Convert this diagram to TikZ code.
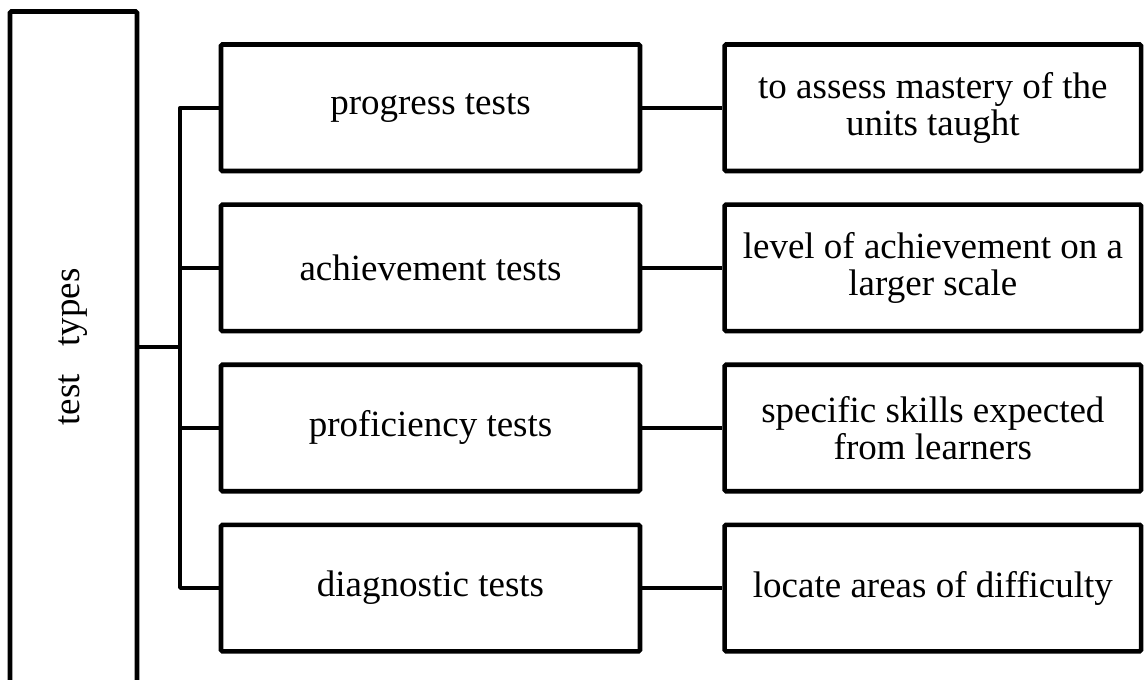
\documentclass[tikz,border=0pt]{standalone}
\usepackage{fontspec}
\setmainfont{Liberation Serif}
\usepackage{xcolor}
\usepackage{tikz}
\usetikzlibrary{positioning}
\definecolor{ttink}{HTML}{000000}
\tikzset{
  tside/.style={draw=ttink,line width=4.6pt,rounded corners=1.5pt,minimum width=127pt,
    minimum height=671pt,inner sep=0pt},
  ttype/.style={draw=ttink,line width=4.6pt,rounded corners=1.5pt,minimum width=419pt,
    minimum height=126.5pt,align=center,inner sep=2pt},
  tdesc/.style={ttype,minimum width=416.5pt},
  tlink/.style={draw=ttink,line width=3.6pt,line join=round}
}

\begin{document}
\begin{tikzpicture}[x=1pt,y=-1pt,font=\fontsize{37}{37}\selectfont]
    \useasboundingbox (0,0) rectangle (1144,680);
    \node[tside] (side) at (73.5,347) {};
    \node[rotate=90] (sidelbl) at (side.center) {test~~~types};
    \node[ttype] (prog) at (430.5,107.75) {progress tests};
    \node[ttype,below=29pt of prog] (achv) {achievement tests};
    \node[ttype,below=29pt of achv] (prof) {proficiency tests};
    \node[ttype,below=29pt of prof] (diag) {diagnostic tests};
    \node[tdesc,right=80pt of prog] (progd) {to assess mastery of the\\units taught};
    \node[tdesc,right=80pt of achv] (achvd) {level of achievement on a\\larger scale};
    \node[tdesc,right=80pt of prof] (profd) {specific skills expected\\from learners};
    \node[tdesc,right=80pt of diag] (diagd) {locate areas of difficulty};
    \coordinate (jn) at (180,347);
    % trunk and branches
    \draw[tlink] (side) -- (jn);
    \draw[tlink] (prog.west) -| (jn) |- (diag.west);
    \draw[tlink] (jn |- achv.west) -- (achv.west);
    \draw[tlink] (jn |- prof.west) -- (prof.west);
    \draw[tlink] (prog) -- (progd);
    \draw[tlink] (achv) -- (achvd);
    \draw[tlink] (prof) -- (profd);
    \draw[tlink] (diag) -- (diagd);
  \end{tikzpicture}
\end{document}
